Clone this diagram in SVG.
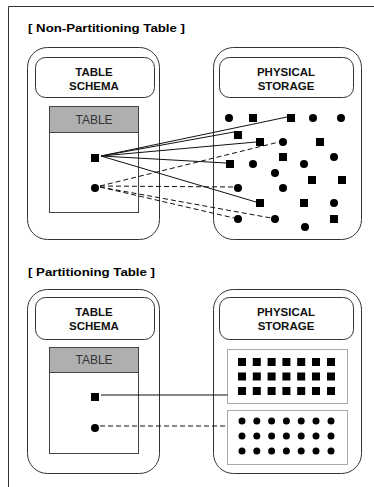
<svg xmlns="http://www.w3.org/2000/svg" width="374" height="487" viewBox="0 0 374 487">
<style>
.frame{stroke:#333;stroke-width:1;fill:none}
.outer{fill:#fff;stroke:#333;stroke-width:1}
.inner{fill:#fff;stroke:#333;stroke-width:1}
.tbl{fill:#fff;stroke:#444;stroke-width:1}
.hdr{fill:#afafaf;stroke:#444;stroke-width:1}
.title{font-family:"Liberation Sans",Arial,sans-serif;font-weight:bold;font-size:10.5px;fill:#000}
.lbl{font-family:"Liberation Sans",Arial,sans-serif;font-weight:bold;font-size:11.5px;fill:#111;text-anchor:middle}
.hdrt{font-family:"Liberation Sans",Arial,sans-serif;font-size:12px;fill:#333;text-anchor:middle}
.sq{fill:#000}
.dt{fill:#000}
.box{fill:none;stroke:#555;stroke-width:1;stroke-dasharray:1 1}
.solid{stroke:#111;stroke-width:1;fill:none}
.dash{stroke:#111;stroke-width:1;fill:none;stroke-dasharray:5 3}
</style>
<defs>
<rect id="s" x="-4" y="-4" width="8" height="8" class="sq"/>
<circle id="c" r="4" class="dt"/>
<circle id="c2" r="3.5" class="dt"/>
</defs>
<rect width="374" height="487" fill="#fff"/>
<path class="frame" d="M8.5 487V6.5H374"/>

<!-- Section 1 -->
<text class="title" x="28" y="32" textLength="157" lengthAdjust="spacingAndGlyphs">[  Non-Partitioning Table  ]</text>

<g id="schema1">
<rect class="outer" x="27.5" y="47.5" width="132" height="192" rx="20"/>
<rect class="inner" x="35.5" y="57.5" width="119" height="40" rx="10"/>
<text class="lbl" x="94" y="76">TABLE</text>
<text class="lbl" x="94" y="90">SCHEMA</text>
</g>
<g id="table1">
<rect class="tbl" x="49.5" y="106.5" width="89" height="106"/>
<rect class="hdr" x="49.5" y="106.5" width="89" height="26"/>
<text class="hdrt" x="94" y="124">TABLE</text>
<use href="#s" x="95" y="158"/>
<use href="#c" x="95" y="188"/>
</g>
<g id="storage1">
<rect class="outer" x="213.5" y="47.5" width="148" height="192" rx="20"/>
<rect class="inner" x="219.5" y="57.5" width="134" height="40" rx="10"/>
<text class="lbl" x="286" y="76">PHYSICAL</text>
<text class="lbl" x="286" y="90">STORAGE</text>
<use href="#c" x="229" y="118"/>
<use href="#s" x="253" y="118"/>
<use href="#s" x="291" y="118"/>
<use href="#c" x="313" y="118"/>
<use href="#c" x="341" y="118"/>
<use href="#s" x="238" y="135"/>
<use href="#s" x="260" y="142"/>
<use href="#c" x="283" y="142"/>
<use href="#s" x="320" y="142"/>
<use href="#s" x="283" y="157"/>
<use href="#c" x="334" y="157"/>
<use href="#s" x="230" y="164"/>
<use href="#c" x="253" y="164"/>
<use href="#c" x="304" y="164"/>
<use href="#c" x="275" y="173"/>
<use href="#s" x="312" y="180"/>
<use href="#s" x="342" y="180"/>
<use href="#c" x="238" y="188"/>
<use href="#c" x="283" y="188"/>
<use href="#s" x="260" y="203"/>
<use href="#s" x="304" y="203"/>
<use href="#c" x="334" y="203"/>
<use href="#c" x="238" y="219"/>
<use href="#c" x="275" y="219"/>
<use href="#c" x="305" y="227"/>
<use href="#s" x="334" y="219"/>
</g>
<g id="connectors1">
<line class="solid" x1="101" y1="156" x2="287" y2="117"/>
<line class="solid" x1="101" y1="156" x2="234" y2="132"/>
<line class="solid" x1="101" y1="156" x2="256" y2="142"/>
<line class="solid" x1="101" y1="156" x2="226" y2="163"/>
<line class="solid" x1="101" y1="156" x2="256" y2="202"/>
<line class="dash" x1="100" y1="186" x2="279" y2="142"/>
<line class="dash" x1="100" y1="186" x2="234" y2="187"/>
<line class="dash" x1="100" y1="187" x2="234" y2="218"/>
<line class="dash" x1="100" y1="187" x2="271" y2="218"/>
</g>

<!-- Section 2 -->
<text class="title" x="28" y="276" textLength="127" lengthAdjust="spacingAndGlyphs">[  Partitioning Table  ]</text>

<g id="schema2">
<rect class="outer" x="27.5" y="289.5" width="132" height="184" rx="20"/>
<rect class="inner" x="35.5" y="297.5" width="119" height="42" rx="10"/>
<text class="lbl" x="94" y="316">TABLE</text>
<text class="lbl" x="94" y="330">SCHEMA</text>
</g>
<g id="table2">
<rect class="tbl" x="49.5" y="347.5" width="89" height="106"/>
<rect class="hdr" x="49.5" y="347.5" width="89" height="25"/>
<text class="hdrt" x="94" y="364">TABLE</text>
<use href="#s" x="95" y="397"/>
<use href="#c" x="95" y="428"/>
</g>
<g id="storage2">
<rect class="outer" x="213.5" y="289.5" width="148" height="184" rx="20"/>
<rect class="inner" x="219.5" y="297.5" width="134" height="42" rx="10"/>
<text class="lbl" x="286" y="316">PHYSICAL</text>
<text class="lbl" x="286" y="330">STORAGE</text>
<g id="partition1">
<rect class="box" x="227.5" y="349.5" width="120" height="54"/>
<use href="#s" x="242" y="362"/><use href="#s" x="256.8" y="362"/><use href="#s" x="271.6" y="362"/><use href="#s" x="286.4" y="362"/><use href="#s" x="301.2" y="362"/><use href="#s" x="316" y="362"/><use href="#s" x="331" y="362"/>
<use href="#s" x="242" y="376.5"/><use href="#s" x="256.8" y="376.5"/><use href="#s" x="271.6" y="376.5"/><use href="#s" x="286.4" y="376.5"/><use href="#s" x="301.2" y="376.5"/><use href="#s" x="316" y="376.5"/><use href="#s" x="331" y="376.5"/>
<use href="#s" x="242" y="391"/><use href="#s" x="256.8" y="391"/><use href="#s" x="271.6" y="391"/><use href="#s" x="286.4" y="391"/><use href="#s" x="301.2" y="391"/><use href="#s" x="316" y="391"/><use href="#s" x="331" y="391"/>
</g>
<g id="partition2">
<rect class="box" x="227.5" y="410.5" width="120" height="54"/>
<use href="#c2" x="242" y="421"/><use href="#c2" x="256.8" y="421"/><use href="#c2" x="271.6" y="421"/><use href="#c2" x="286.4" y="421"/><use href="#c2" x="301.2" y="421"/><use href="#c2" x="316" y="421"/><use href="#c2" x="331" y="421"/>
<use href="#c2" x="242" y="436"/><use href="#c2" x="256.8" y="436"/><use href="#c2" x="271.6" y="436"/><use href="#c2" x="286.4" y="436"/><use href="#c2" x="301.2" y="436"/><use href="#c2" x="316" y="436"/><use href="#c2" x="331" y="436"/>
<use href="#c2" x="242" y="451"/><use href="#c2" x="256.8" y="451"/><use href="#c2" x="271.6" y="451"/><use href="#c2" x="286.4" y="451"/><use href="#c2" x="301.2" y="451"/><use href="#c2" x="316" y="451"/><use href="#c2" x="331" y="451"/>
</g>
</g>
<g id="connectors2">
<line class="solid" x1="101" y1="395" x2="227.5" y2="395"/>
<line class="dash" x1="100" y1="426" x2="227.5" y2="426"/>
</g>
</svg>
